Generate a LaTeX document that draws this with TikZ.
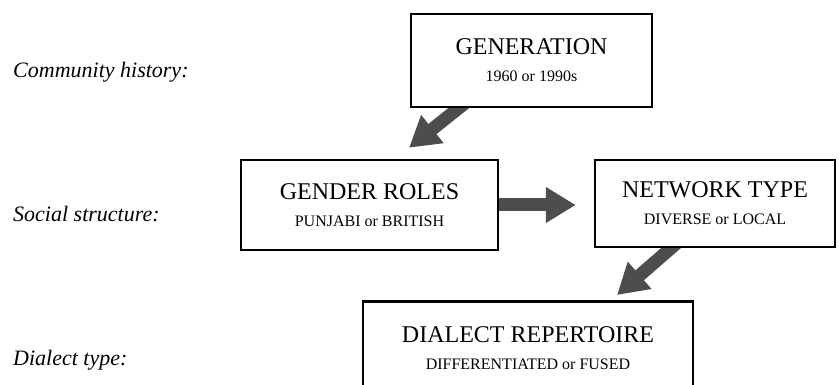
\documentclass[tikz,border=0pt]{standalone}
\usepackage{fontspec}
\setmainfont{Liberation Serif}
\usetikzlibrary{arrows.meta,backgrounds}

\definecolor{arrowgray}{HTML}{4D4D4D}
\newcommand{\facttitle}{\fontsize{24}{27}\selectfont}

\begin{document}
\begin{tikzpicture}[x=1pt,y=-1pt,
        factor/.style={draw,line width=2.5pt,fill=white,align=center,inner sep=0pt,
            font=\fontsize{16}{27}\selectfont},
        fatarrow/.style={arrowgray,line width=13pt,-{Triangle[length=30pt,width=34pt]}},
        level/.style={anchor=base west,inner sep=0pt,font=\fontsize{22}{26}\selectfont\itshape}]
        \useasboundingbox (0,0) rectangle (839,385);
        \clip (0,0) rectangle (839,385);
        % уровни слева
        \node[level] (hist) at (13,78) {Community history:};
        \node[level] (soc) at (13,222) {Social structure:};
        \node[level] (dial) at (13,365) {Dialect type:};
        % блоки
        \node[factor,minimum width=241pt,minimum height=93pt] (gen) at (531.5,60.5)
            {{\facttitle GENERATION}\\1960 or 1990s};
        \node[factor,minimum width=257pt,minimum height=90pt] (gender) at (369.5,205)
            {{\facttitle GENDER ROLES}\\PUNJABI or BRITISH};
        \node[factor,minimum width=240pt,minimum height=87pt] (network) at (715,203.5)
            {{\facttitle NETWORK TYPE}\\DIVERSE or LOCAL};
        \node[factor,minimum width=330pt,minimum height=93pt,anchor=north] (dialect) at (528,300)
            {{\facttitle DIALECT REPERTOIRE}\\DIFFERENTIATED or FUSED};
        % стрелки
        \begin{scope}[on background layer]
            \draw[fatarrow] ([xshift=-63pt,yshift=8pt]gen.south) -- ([xshift=39.5pt,yshift=11pt]gender.north);
            \draw[fatarrow] ([xshift=-8pt]gender.east) -- ([xshift=-18pt]network.west |- gender.east);
            \draw[fatarrow] ([xshift=-35pt,yshift=8pt]network.south) -- ([xshift=89pt,yshift=5pt]dialect.north);
        \end{scope}
    \end{tikzpicture}
\end{document}
